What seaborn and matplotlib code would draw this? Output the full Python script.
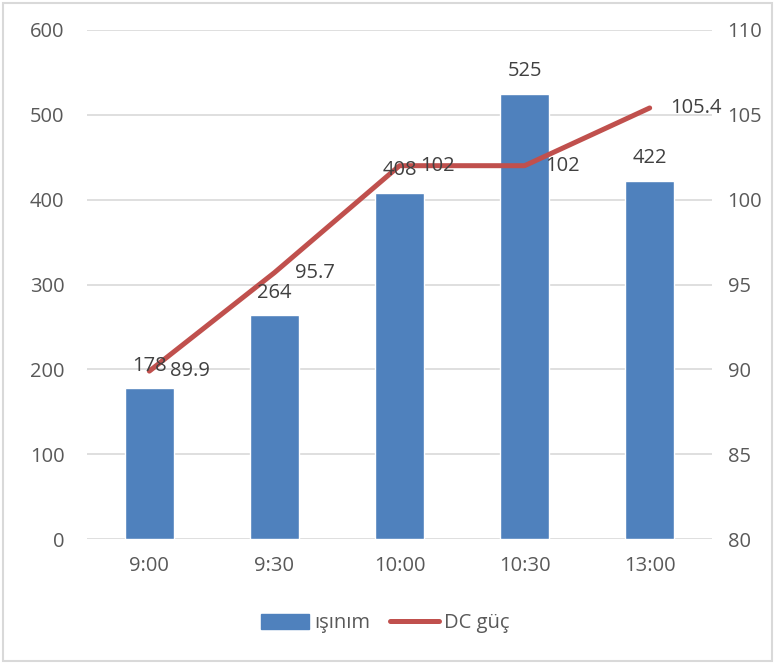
import numpy as np
import pandas as pd
import matplotlib
matplotlib.use("Agg")
import matplotlib.pyplot as plt
import seaborn as sns
from matplotlib.patches import Rectangle

sns.set_style("white")
plt.rcParams['font.family'] = ['Open Sans', 'DejaVu Sans']

# data
times = ["9:00", "9:30", "10:00", "10:30", "13:00"]
isinim = [178, 264, 408, 525, 422]
dc_guc = [89.9, 95.7, 102, 102, 105.4]

df = pd.DataFrame({"saat": times, "ışınım": isinim, "DC güç": dc_guc})

bar_col = "#4F81BD"
line_col = "#C0504D"
txt_col = "#595959"
grid_col = "#D9D9D9"
fs = 14.5

fig = plt.figure(figsize=(7.75, 6.64), dpi=100)
ax = fig.add_axes([0.112, 0.188, 0.807, 0.767])

sns.barplot(data=df, x="saat", y="ışınım", color=bar_col, width=0.39,
            saturation=1, ax=ax, zorder=2)
ax.set_ylim(0, 600)
ax.set_xlim(-0.5, 4.5)
ax.set_yticks(np.arange(0, 601, 100))
ax.grid(axis="y", color=grid_col, linewidth=1.2, zorder=0)
ax.set_axisbelow(True)
for s in ax.spines.values():
    s.set_visible(False)
ax.set_xlabel("")
ax.set_ylabel("")
ax.tick_params(axis="both", length=0, labelsize=fs, labelcolor=txt_col, pad=16)
ax.tick_params(axis="x", pad=12)

ax2 = ax.twinx()
sns.lineplot(x=np.arange(len(times)), y=dc_guc, color=line_col, linewidth=3.6,
             ax=ax2, zorder=3)
ax2.set_ylim(80, 110)
ax2.set_yticks(np.arange(80, 111, 5))
for s in ax2.spines.values():
    s.set_visible(False)
ax2.tick_params(axis="y", length=0, labelsize=fs, labelcolor=txt_col, pad=11)
ax2.set_ylabel("")

# bar values (drawn on top axes so they sit over the line)
for i, v in enumerate(isinim):
    ax2.annotate(str(v), (i, v), xycoords=ax.transData, xytext=(0, 9),
                 textcoords="offset points", ha="center", va="bottom",
                 fontsize=fs, color="#404040", zorder=5)

for i, v in enumerate(dc_guc):
    lbl = f"{v:g}"
    ax2.annotate(lbl, (i, v), xytext=(15, 0), textcoords="offset points",
                 ha="left", va="center", fontsize=fs, color="#404040", zorder=5)

# legend
handles = [Rectangle((0, 0), 1, 1, color=bar_col),
           plt.Line2D([0], [0], color=line_col, linewidth=3.6, solid_capstyle="round")]
fig.legend(handles, ["ışınım", "DC güç"], loc="center", bbox_to_anchor=(0.497, 0.061),
           ncol=2, frameon=False, fontsize=fs, labelcolor=txt_col,
           handlelength=2.4, handleheight=0.75, handletextpad=0.25, columnspacing=1.0)

# outer border
fig.patches.append(Rectangle((0.004, 0.004), 0.992, 0.992, transform=fig.transFigure,
                             fill=False, edgecolor=grid_col, linewidth=1.5))

fig.savefig("out.png", dpi=100)
